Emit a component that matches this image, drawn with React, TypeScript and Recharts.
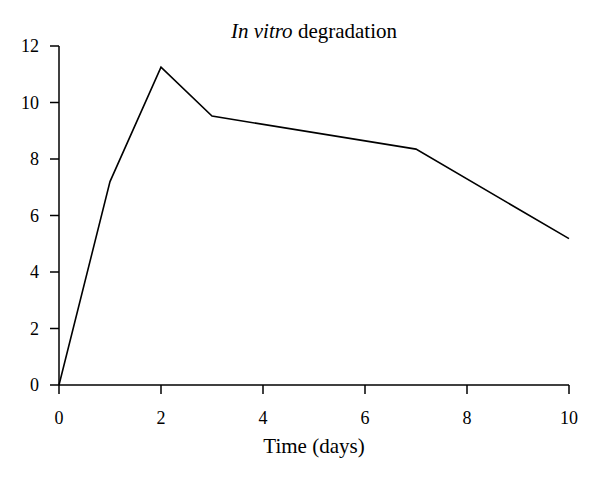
import { Label, Line, LineChart, XAxis, YAxis } from "recharts";

const days = [0, 1, 2, 3, 7, 10];
const degradation = [0, 7.2, 11.25, 9.52, 8.35, 5.18];
const xTicks = [0, 2, 4, 6, 8, 10];
const yTicks = [0, 2, 4, 6, 8, 10, 12];

const font = '"Liberation Serif", "DejaVu Serif", serif';

export default function App() {
  const data = days.map((d, i) => ({ day: d, value: degradation[i] }));
  const tickStyle = { fill: "#000", fontSize: 18, fontFamily: font };
  return (
    <div style={{ position: "absolute", left: 0, top: 0, width: 600, height: 479, background: "#fff" }}>
      <div
        style={{
          position: "absolute",
          left: 59,
          width: 510,
          top: 19,
          textAlign: "center",
          fontFamily: font,
          fontSize: 21,
          color: "#000",
        }}
      >
        <i>In vitro</i> degradation
      </div>
      <LineChart width={600} height={479} data={data} margin={{ top: 46, right: 31, left: 0, bottom: 24 }}>
        <XAxis
          dataKey="day"
          type="number"
          domain={[0, 10]}
          ticks={xTicks}
          tickSize={9}
          tickMargin={17}
          height={70}
          axisLine={{ stroke: "#000", strokeWidth: 1.5 }}
          tickLine={{ stroke: "#000", strokeWidth: 1.5 }}
          tick={tickStyle}
        >
          <Label value="Time (days)" position="insideBottom" offset={2} style={{ ...tickStyle, fontSize: 21 }} />
        </XAxis>
        <YAxis
          domain={[0, 12]}
          ticks={yTicks}
          width={59}
          tickSize={9}
          tickMargin={11}
          axisLine={{ stroke: "#000", strokeWidth: 1.5 }}
          tickLine={{ stroke: "#000", strokeWidth: 1.5 }}
          tick={tickStyle}
        />
        <Line
          type="linear"
          dataKey="value"
          stroke="#000"
          strokeWidth={1.6}
          dot={false}
          isAnimationActive={false}
        />
      </LineChart>
    </div>
  );
}
